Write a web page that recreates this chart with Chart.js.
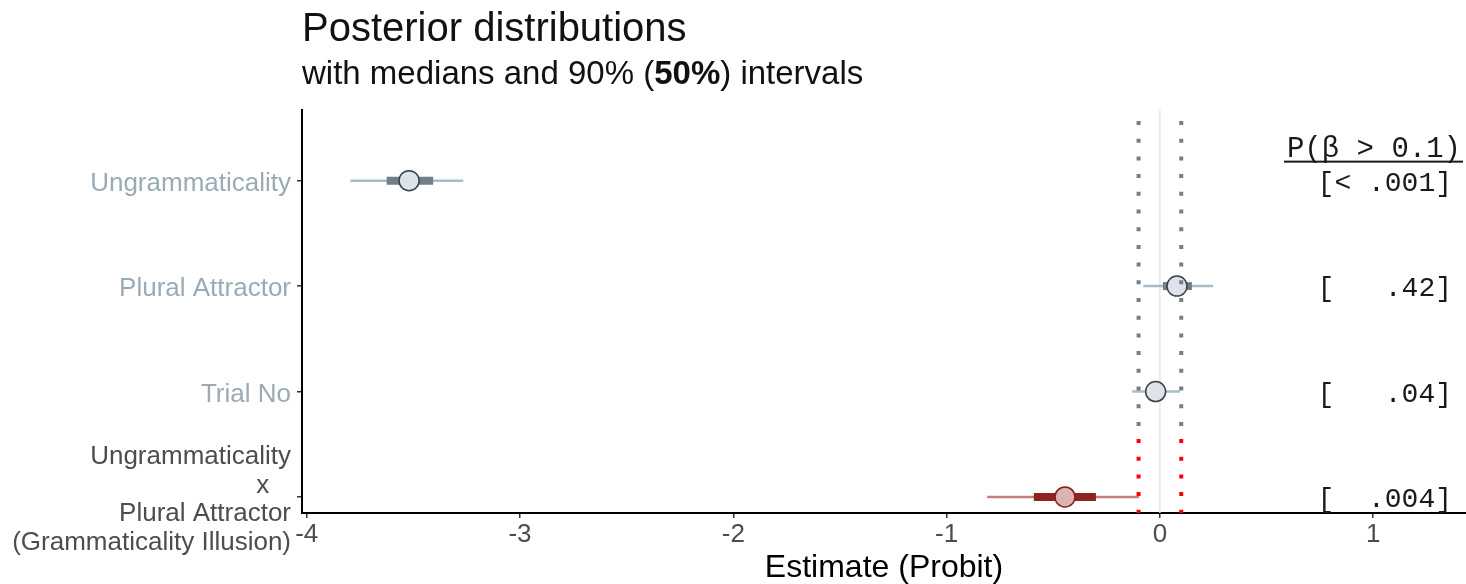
<!DOCTYPE html>
<html>
<head>
<meta charset="utf-8">
<script src="https://cdn.jsdelivr.net/npm/chart.js@4/dist/chart.umd.min.js"></script>
<style>
  html, body { margin: 0; padding: 0; background: #fff; }
  canvas { display: block; }
</style>
</head>
<body>
<canvas id="posteriorChart" width="1466" height="584"></canvas>
<script>
// Model terms, top to bottom
const terms = ['Ungrammaticality', 'Plural Attractor', 'Trial No', 'Ungrammaticality x Plural Attractor'];
const termLabels = [
    'Ungrammaticality',
    'Plural Attractor',
    'Trial No',
    ['Ungrammaticality', 'x   ', 'Plural Attractor', '(Grammaticality Illusion)']
];
const focusTerm = 3; // the illusion term gets the red palette

// Posterior summaries (probit scale)
const medians = [-3.52, 0.08, -0.02, -0.445];
const lo90 = [-3.795, -0.078, -0.13, -0.81];
const hi90 = [-3.266, 0.25, 0.094, -0.098];
const lo50 = [-3.625, 0.014, -0.06, -0.591];
const hi50 = [-3.407, 0.15, 0.02, -0.30];

// P(beta > 0.1) column
const pHeader = 'P(\u03b2 > 0.1)';
const pLabels = ['[< .001]', '[   .42]', '[   .04]', '[  .004]'];

// region of practical equivalence
const ropeBounds = [-0.1, 0.1];
const xTicks = [-4, -3, -2, -1, 0, 1];

const X_MIN = -4.022, X_MAX = 1.435;
const Y_MIN = 0.848, Y_MAX = 4.67;
const SPLIT = terms.length - focusTerm + 0.55;

const palette = {
    main: { thin: '#a9bbc5', thick: '#6d808c', fill: '#dde3e8', edge: '#36434c', label: '#9aabb7', rope: '#6f7f87' },
    focus: { thin: '#c37f7f', thick: '#8e2323', fill: '#dbb3b3', edge: '#8b1a1a', label: '#4d4d4d', rope: '#ff0000' }
};
const pal = i => (i === focusTerm ? palette.focus : palette.main);
const rowY = i => terms.length - i;

const datasets = [];

// zero line
datasets.push({
    data: [{ x: 0, y: Y_MIN }, { x: 0, y: Y_MAX }],
    showLine: true, pointRadius: 0, borderColor: '#e6e6e6', borderWidth: 1.5, order: 10
});

// 90% and 50% intervals
terms.forEach((t, i) => {
    datasets.push({
        data: [{ x: lo90[i], y: rowY(i) }, { x: hi90[i], y: rowY(i) }],
        showLine: true, pointRadius: 0, borderColor: pal(i).thin, borderWidth: 2.5, order: 8
    });
    datasets.push({
        data: [{ x: lo50[i], y: rowY(i) }, { x: hi50[i], y: rowY(i) }],
        showLine: true, pointRadius: 0, borderColor: pal(i).thick, borderWidth: 8, order: 7
    });
});

// medians
datasets.push({
    data: medians.map((m, i) => ({ x: m, y: rowY(i) })),
    pointRadius: 10,
    pointBackgroundColor: terms.map((t, i) => pal(i).fill),
    pointBorderColor: terms.map((t, i) => pal(i).edge),
    pointBorderWidth: 1.5,
    order: 5
});

// dotted ROPE bounds, grey above the illusion row, red through it
ropeBounds.forEach(b => {
    datasets.push({
        data: [{ x: b, y: Y_MAX }, { x: b, y: SPLIT }],
        showLine: true, pointRadius: 0, borderColor: palette.main.rope, borderWidth: 4,
        borderDash: [4, 13.7], borderDashOffset: -11, order: 1
    });
    datasets.push({
        data: [{ x: b, y: SPLIT }, { x: b, y: Y_MIN }],
        showLine: true, pointRadius: 0, borderColor: palette.focus.rope, borderWidth: 4,
        borderDash: [4, 13.7], borderDashOffset: 0, order: 1
    });
});

const headerPlugin = {
    id: 'header',
    afterDraw(chart) {
        const { ctx, chartArea } = chart;
        ctx.save();
        ctx.fillStyle = '#111';
        ctx.textBaseline = 'alphabetic';
        ctx.textAlign = 'left';
        ctx.font = '40px "Liberation Sans", Arial, sans-serif';
        ctx.fillText('Posterior distributions', chartArea.left, 41);

        const parts = [
            ['with medians and 90% (', '400'],
            ['50%', '700'],
            [') intervals', '400']
        ];
        let x = chartArea.left;
        parts.forEach(([txt, w]) => {
            ctx.font = w + ' 33px "Liberation Sans", Arial, sans-serif';
            ctx.fillText(txt, x, 84);
            x += ctx.measureText(txt).width;
        });
        ctx.restore();
    }
};

const pValuePlugin = {
    id: 'pValues',
    afterDraw(chart) {
        const { ctx, chartArea, scales: { y } } = chart;
        ctx.save();
        ctx.fillStyle = '#1a1a1a';
        ctx.textAlign = 'right';

        const top = y.getPixelForValue(rowY(0));
        ctx.font = '29px "Liberation Mono", monospace';
        ctx.textBaseline = 'alphabetic';
        const hx = chartArea.right - 5;
        ctx.fillText(pHeader, hx, top - 24);
        const w = ctx.measureText(pHeader).width;
        ctx.fillRect(hx - w - 3, top - 20, w + 5, 2);

        ctx.font = '28px "Liberation Mono", monospace';
        ctx.textBaseline = 'middle';
        pLabels.forEach((t, i) => {
            ctx.fillText(t, chartArea.right - 14, y.getPixelForValue(rowY(i)) + 3);
        });
        ctx.restore();
    }
};

new Chart(document.getElementById('posteriorChart'), {
    type: 'scatter',
    data: { datasets },
    options: {
        responsive: false,
        animation: false,
        events: [],
        layout: { autoPadding: false, padding: { top: 110, right: 0, left: 0, bottom: 0 } },
        plugins: { legend: { display: false }, tooltip: { enabled: false } },
        scales: {
            x: {
                type: 'linear',
                min: X_MIN,
                max: X_MAX,
                afterBuildTicks: s => { s.ticks = xTicks.map(v => ({ value: v })); },
                afterFit: s => { s.height = 71; },
                grid: { drawOnChartArea: false, drawTicks: true, tickLength: 5, color: '#333', lineWidth: 1.5 },
                border: { display: true, color: '#000', width: 2 },
                ticks: {
                    color: '#4d4d4d',
                    padding: 4,
                    font: { family: '"Liberation Sans", Arial, sans-serif', size: 26, lineHeight: 1 },
                    callback: v => String(v)
                },
                title: {
                    display: true,
                    text: 'Estimate (Probit)',
                    color: '#000',
                    padding: { top: 0, bottom: 0 },
                    font: { family: '"Liberation Sans", Arial, sans-serif', size: 32, lineHeight: 1.0 }
                }
            },
            y: {
                type: 'linear',
                min: Y_MIN,
                max: Y_MAX,
                afterBuildTicks: s => { s.ticks = terms.map((t, i) => ({ value: rowY(i) })); },
                afterFit: s => { s.width = 302; },
                grid: { drawOnChartArea: false, drawTicks: true, tickLength: 5, color: '#333', lineWidth: 1.5 },
                border: { display: true, color: '#000', width: 2 },
                ticks: {
                    padding: 6,
                    labelOffset: 3,
                    color: c => pal(terms.length - c.tick.value).label,
                    font: { family: '"Liberation Sans", Arial, sans-serif', size: 26, lineHeight: 1.1 },
                    callback: v => termLabels[terms.length - v]
                }
            }
        }
    },
    plugins: [headerPlugin, pValuePlugin]
});
</script>
</body>
</html>
